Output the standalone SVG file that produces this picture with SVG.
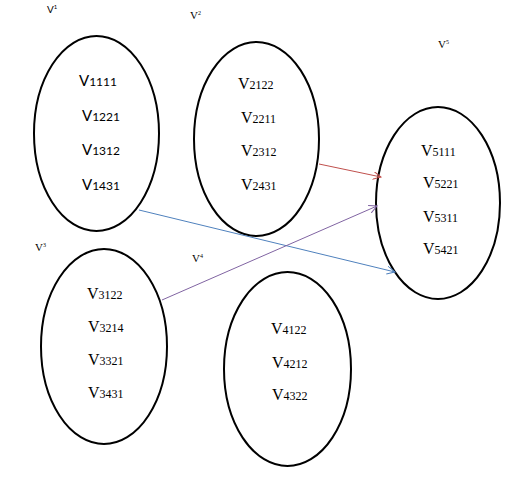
<svg xmlns="http://www.w3.org/2000/svg" width="515" height="481" viewBox="0 0 515 481">
<style>
.node ellipse{fill:none;stroke:#000;stroke-width:2}
.sans{font-family:"Lato","Liberation Sans",sans-serif;font-size:15px;fill:#000}
.serif{font-family:"Liberation Serif",serif;font-size:16px;fill:#000}
.d{font-size:12px}
.hs{font-family:"Lato","Liberation Sans",sans-serif;font-size:10px;fill:#000}
.hr{font-family:"Liberation Serif",serif;font-size:11px;fill:#000}
.sup{font-size:6px}
.conn line{stroke-width:1;fill:none}
</style>
<defs>
<marker id="aR" markerWidth="10" markerHeight="10" refX="8" refY="4" orient="auto" markerUnits="userSpaceOnUse"><path d="M0,0 L8,4 L0,8" fill="none" stroke="#c0504d" stroke-width="1"/></marker>
<marker id="aB" markerWidth="10" markerHeight="10" refX="8" refY="4" orient="auto" markerUnits="userSpaceOnUse"><path d="M0,0 L8,4 L0,8" fill="none" stroke="#4f81bd" stroke-width="1"/></marker>
<marker id="aP" markerWidth="10" markerHeight="10" refX="8" refY="4" orient="auto" markerUnits="userSpaceOnUse"><path d="M0,0 L8,4 L0,8" fill="none" stroke="#8064a2" stroke-width="1"/></marker>
</defs>
<rect width="515" height="481" fill="#fff"/>
<g id="labels">
<text class="hs" x="47" y="13">V<tspan class="sup" dy="-4">1</tspan></text>
<text class="hr" x="190" y="19">V<tspan class="sup" dy="-4">2</tspan></text>
<text class="hr" x="438" y="48">V<tspan class="sup" dy="-4">5</tspan></text>
<text class="hr" x="35" y="251">V<tspan class="sup" dy="-4">3</tspan></text>
<text class="hr" x="192" y="262">V<tspan class="sup" dy="-4">4</tspan></text>
</g>
<g id="v1" class="node">
<ellipse cx="96.5" cy="133.5" rx="62.5" ry="97.5"/>
<text class="sans" x="79" y="86">V<tspan class="d">1111</tspan></text>
<text class="sans" x="82" y="121">V<tspan class="d">1221</tspan></text>
<text class="sans" x="82" y="155">V<tspan class="d">1312</tspan></text>
<text class="sans" x="82" y="190">V<tspan class="d">1431</tspan></text>
</g>
<g id="v2" class="node">
<ellipse cx="256.5" cy="139" rx="62.5" ry="97"/>
<text class="serif" x="238" y="89">V<tspan class="d">2122</tspan></text>
<text class="serif" x="241" y="123">V<tspan class="d">2211</tspan></text>
<text class="serif" x="241" y="156">V<tspan class="d">2312</tspan></text>
<text class="serif" x="241" y="190">V<tspan class="d">2431</tspan></text>
</g>
<g id="v5" class="node">
<ellipse cx="438" cy="203" rx="62" ry="96"/>
<text class="serif" x="421" y="156">V<tspan class="d">5111</tspan></text>
<text class="serif" x="423" y="188">V<tspan class="d">5221</tspan></text>
<text class="serif" x="423" y="222">V<tspan class="d">5311</tspan></text>
<text class="serif" x="423" y="254">V<tspan class="d">5421</tspan></text>
</g>
<g id="v3" class="node">
<ellipse cx="104" cy="346.5" rx="63" ry="97.5"/>
<text class="serif" x="87" y="299">V<tspan class="d">3122</tspan></text>
<text class="serif" x="88" y="332">V<tspan class="d">3214</tspan></text>
<text class="serif" x="88" y="365">V<tspan class="d">3321</tspan></text>
<text class="serif" x="88" y="398">V<tspan class="d">3431</tspan></text>
</g>
<g id="v4" class="node">
<ellipse cx="287.5" cy="369" rx="63.5" ry="97"/>
<text class="serif" x="271" y="334">V<tspan class="d">4122</tspan></text>
<text class="serif" x="272" y="368">V<tspan class="d">4212</tspan></text>
<text class="serif" x="272" y="400">V<tspan class="d">4322</tspan></text>
</g>
<g id="connectors" class="conn">
<line x1="319" y1="164" x2="381" y2="177" stroke="#c0504d" marker-end="url(#aR)"/>
<line x1="139" y1="210" x2="395" y2="272" stroke="#4f81bd" marker-end="url(#aB)"/>
<line x1="162" y1="300" x2="377" y2="206" stroke="#8064a2" marker-end="url(#aP)"/>
</g>
</svg>
